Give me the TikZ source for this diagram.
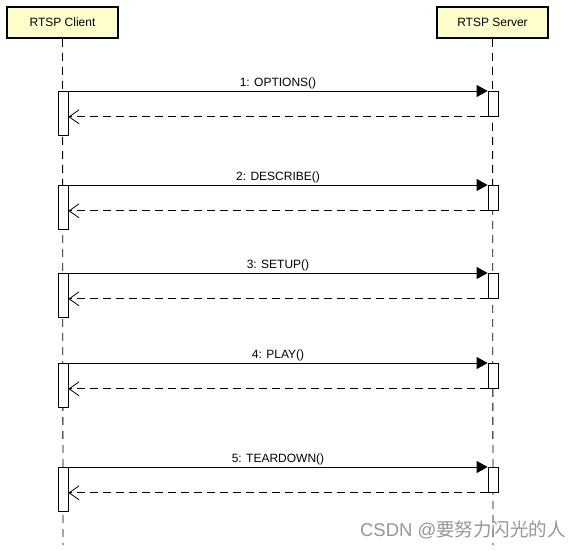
\documentclass[tikz,border=0pt]{standalone}
\usepackage{fontspec}
\setmainfont{Liberation Sans}
\newfontfamily\cjk{Noto Sans CJK SC}
\usetikzlibrary{arrows.meta,positioning}
\definecolor{HeadYellow}{RGB}{255,255,204}
\definecolor{MarkGray}{RGB}{150,150,150}
\tikzset{
  actor/.style={draw=black,fill=HeadYellow,line width=1.6pt,minimum width=111pt,
    minimum height=31pt,inner sep=0pt,font=\fontsize{12}{14}\selectfont},
  lifeline/.style={line width=0.8pt,dash pattern=on 8pt off 6pt},
  clientbar/.style={draw=black,fill=white,line width=0.8pt,minimum width=10pt,
    minimum height=44pt,inner sep=0pt,anchor=north},
  serverbar/.style={draw=black,fill=white,line width=0.8pt,minimum width=10pt,
    minimum height=25pt,inner sep=0pt,anchor=north},
  call/.style={line width=0.8pt,-{Triangle[length=11pt,width=12pt]}},
  reply/.style={line width=0.8pt,dash pattern=on 8pt off 5pt,
    -{Straight Barb[length=10pt,width=14pt,line width=0.8pt]}},
  msg/.style={above,inner sep=1.5pt,font=\fontsize{12}{14}\selectfont}
}

\begin{document}
\begin{tikzpicture}[x=1pt,y=-1pt]

\useasboundingbox (0,0) rectangle (584,550);

% actors and lifelines
\node[actor] (client) at (62.5,22.5) {RTSP Client};
\node[actor] (server) at (492.5,22.5) {RTSP Server};
\coordinate (clientEnd) at (63,545);
\coordinate (serverEnd) at (493,545);
\draw[lifeline] (client.south) -- (clientEnd);
\draw[lifeline] (server.south) -- (serverEnd);

% activation bars
\node[clientbar] (ca1) at (63,91) {};
\node[serverbar] (sa1) at (493,91) {};
\node[clientbar] (ca2) at (63,185) {};
\node[serverbar] (sa2) at (493,185) {};
\node[clientbar] (ca3) at (63,273) {};
\node[serverbar] (sa3) at (493,273) {};
\node[clientbar] (ca4) at (63,363) {};
\node[serverbar] (sa4) at (493,363) {};
\node[clientbar] (ca5) at (63,467) {};
\node[serverbar] (sa5) at (493,467) {};

% requests
\draw[call] (ca1.north east) -- (sa1.north west) node[msg,midway] {1: OPTIONS()};
\draw[call] (ca2.north east) -- (sa2.north west) node[msg,midway] {2: DESCRIBE()};
\draw[call] (ca3.north east) -- (sa3.north west) node[msg,midway] {3: SETUP()};
\draw[call] (ca4.north east) -- (sa4.north west) node[msg,midway] {4: PLAY()};
\draw[call] (ca5.north east) -- (sa5.north west) node[msg,midway] {5: TEARDOWN()};

% replies
\draw[reply] (sa1.south west) -- (sa1.south west -| ca1.east);
\draw[reply] (sa2.south west) -- (sa2.south west -| ca2.east);
\draw[reply] (sa3.south west) -- (sa3.south west -| ca3.east);
\draw[reply] (sa4.south west) -- (sa4.south west -| ca4.east);
\draw[reply] (sa5.south west) -- (sa5.south west -| ca5.east);

\node[text=MarkGray,font=\fontsize{18.5}{21}\selectfont,inner sep=0pt] (mark)
  at (463,530) {CSDN @{\cjk 要努力闪光的人}};

\end{tikzpicture}
\end{document}
